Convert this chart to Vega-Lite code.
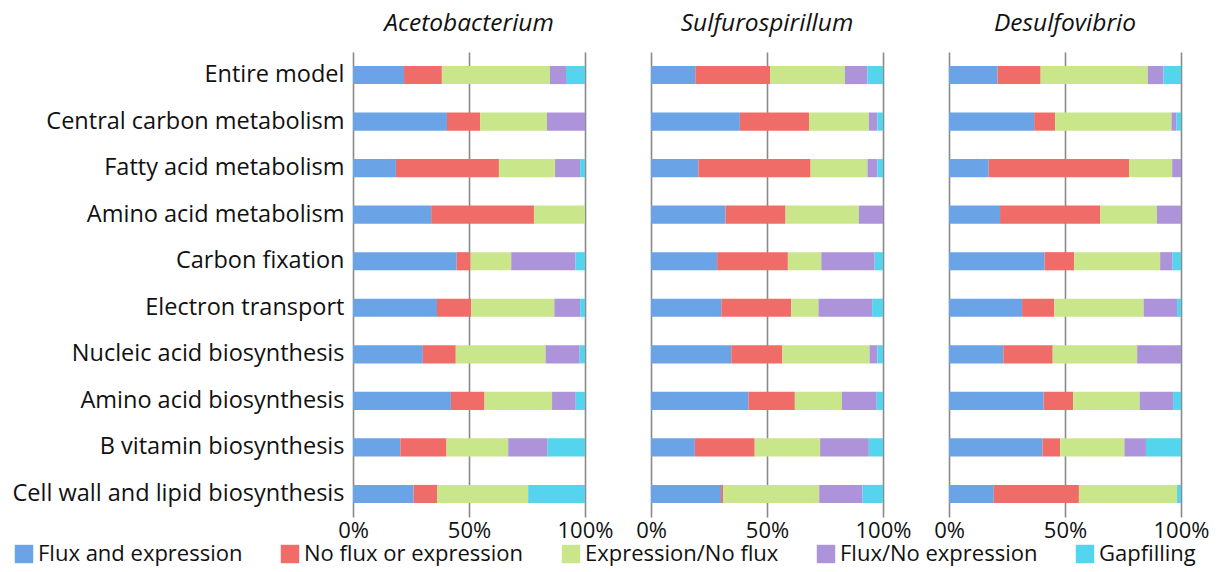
{
  "$schema": "https://vega.github.io/schema/vega-lite/v6.json",
  "padding": {"left": 12, "top": 10, "right": 2, "bottom": 2},
  "background": "white",
  "config": {
    "font": "Open Sans",
    "view": {"stroke": null},
    "header": {"labelFont": "Open Sans", "labelFontSize": 24.5, "labelFontStyle": "italic", "labelColor": "#111", "labelPadding": 16, "title": null}
  },
  "datasets": {
    "ranks": [
      {"status": "Flux and expression", "rank": 1},
      {"status": "No flux or expression", "rank": 2},
      {"status": "Expression/No flux", "rank": 3},
      {"status": "Flux/No expression", "rank": 4},
      {"status": "Gapfilling", "rank": 5}
    ]
  },
  "data": {
    "values": [
      {"organism": "Acetobacterium", "category": "Entire model", "Flux and expression": 22.0, "No flux or expression": 16.3, "Expression/No flux": 46.6, "Flux/No expression": 6.9, "Gapfilling": 8.2},
      {"organism": "Acetobacterium", "category": "Central carbon metabolism", "Flux and expression": 40.5, "No flux or expression": 14.3, "Expression/No flux": 28.8, "Flux/No expression": 16.4, "Gapfilling": 0},
      {"organism": "Acetobacterium", "category": "Fatty acid metabolism", "Flux and expression": 18.5, "No flux or expression": 44.4, "Expression/No flux": 24.2, "Flux/No expression": 10.8, "Gapfilling": 2.1},
      {"organism": "Acetobacterium", "category": "Amino acid metabolism", "Flux and expression": 33.7, "No flux or expression": 44.3, "Expression/No flux": 22.0, "Flux/No expression": 0, "Gapfilling": 0},
      {"organism": "Acetobacterium", "category": "Carbon fixation", "Flux and expression": 44.7, "No flux or expression": 6.0, "Expression/No flux": 17.5, "Flux/No expression": 27.7, "Gapfilling": 4.1},
      {"organism": "Acetobacterium", "category": "Electron transport", "Flux and expression": 36.2, "No flux or expression": 14.8, "Expression/No flux": 35.8, "Flux/No expression": 11.1, "Gapfilling": 2.1},
      {"organism": "Acetobacterium", "category": "Nucleic acid biosynthesis", "Flux and expression": 30.1, "No flux or expression": 14.2, "Expression/No flux": 38.7, "Flux/No expression": 14.7, "Gapfilling": 2.3},
      {"organism": "Acetobacterium", "category": "Amino acid biosynthesis", "Flux and expression": 42.2, "No flux or expression": 14.5, "Expression/No flux": 29.1, "Flux/No expression": 10.2, "Gapfilling": 4.0},
      {"organism": "Acetobacterium", "category": "B vitamin biosynthesis", "Flux and expression": 20.4, "No flux or expression": 19.9, "Expression/No flux": 26.6, "Flux/No expression": 17.0, "Gapfilling": 16.1},
      {"organism": "Acetobacterium", "category": "Cell wall and lipid biosynthesis", "Flux and expression": 26.1, "No flux or expression": 10.1, "Expression/No flux": 39.3, "Flux/No expression": 0, "Gapfilling": 24.5},
      {"organism": "Sulfurospirillum", "category": "Entire model", "Flux and expression": 19.1, "No flux or expression": 32.2, "Expression/No flux": 32.3, "Flux/No expression": 9.7, "Gapfilling": 6.7},
      {"organism": "Sulfurospirillum", "category": "Central carbon metabolism", "Flux and expression": 38.3, "No flux or expression": 29.8, "Expression/No flux": 25.8, "Flux/No expression": 3.7, "Gapfilling": 2.4},
      {"organism": "Sulfurospirillum", "category": "Fatty acid metabolism", "Flux and expression": 20.4, "No flux or expression": 48.4, "Expression/No flux": 24.5, "Flux/No expression": 4.3, "Gapfilling": 2.4},
      {"organism": "Sulfurospirillum", "category": "Amino acid metabolism", "Flux and expression": 32.1, "No flux or expression": 25.9, "Expression/No flux": 31.6, "Flux/No expression": 10.4, "Gapfilling": 0},
      {"organism": "Sulfurospirillum", "category": "Carbon fixation", "Flux and expression": 28.5, "No flux or expression": 30.5, "Expression/No flux": 14.4, "Flux/No expression": 23.0, "Gapfilling": 3.6},
      {"organism": "Sulfurospirillum", "category": "Electron transport", "Flux and expression": 30.3, "No flux or expression": 30.1, "Expression/No flux": 11.8, "Flux/No expression": 23.1, "Gapfilling": 4.7},
      {"organism": "Sulfurospirillum", "category": "Nucleic acid biosynthesis", "Flux and expression": 34.6, "No flux or expression": 22.0, "Expression/No flux": 37.6, "Flux/No expression": 3.4, "Gapfilling": 2.4},
      {"organism": "Sulfurospirillum", "category": "Amino acid biosynthesis", "Flux and expression": 42.0, "No flux or expression": 20.0, "Expression/No flux": 20.3, "Flux/No expression": 15.0, "Gapfilling": 2.7},
      {"organism": "Sulfurospirillum", "category": "B vitamin biosynthesis", "Flux and expression": 18.9, "No flux or expression": 25.8, "Expression/No flux": 28.2, "Flux/No expression": 21.0, "Gapfilling": 6.1},
      {"organism": "Sulfurospirillum", "category": "Cell wall and lipid biosynthesis", "Flux and expression": 30.2, "No flux or expression": 0.9, "Expression/No flux": 41.4, "Flux/No expression": 18.7, "Gapfilling": 8.8},
      {"organism": "Desulfovibrio", "category": "Entire model", "Flux and expression": 20.9, "No flux or expression": 18.6, "Expression/No flux": 46.2, "Flux/No expression": 6.7, "Gapfilling": 7.6},
      {"organism": "Desulfovibrio", "category": "Central carbon metabolism", "Flux and expression": 36.7, "No flux or expression": 9.1, "Expression/No flux": 50.1, "Flux/No expression": 2.1, "Gapfilling": 2.0},
      {"organism": "Desulfovibrio", "category": "Fatty acid metabolism", "Flux and expression": 17.1, "No flux or expression": 60.5, "Expression/No flux": 18.6, "Flux/No expression": 3.8, "Gapfilling": 0},
      {"organism": "Desulfovibrio", "category": "Amino acid metabolism", "Flux and expression": 22.0, "No flux or expression": 43.1, "Expression/No flux": 24.5, "Flux/No expression": 10.4, "Gapfilling": 0},
      {"organism": "Desulfovibrio", "category": "Carbon fixation", "Flux and expression": 41.2, "No flux or expression": 12.7, "Expression/No flux": 37.1, "Flux/No expression": 5.4, "Gapfilling": 3.6},
      {"organism": "Desulfovibrio", "category": "Electron transport", "Flux and expression": 31.5, "No flux or expression": 13.9, "Expression/No flux": 38.5, "Flux/No expression": 14.4, "Gapfilling": 1.7},
      {"organism": "Desulfovibrio", "category": "Nucleic acid biosynthesis", "Flux and expression": 23.4, "No flux or expression": 21.3, "Expression/No flux": 36.4, "Flux/No expression": 18.9, "Gapfilling": 0},
      {"organism": "Desulfovibrio", "category": "Amino acid biosynthesis", "Flux and expression": 40.8, "No flux or expression": 12.7, "Expression/No flux": 28.7, "Flux/No expression": 14.4, "Gapfilling": 3.4},
      {"organism": "Desulfovibrio", "category": "B vitamin biosynthesis", "Flux and expression": 40.3, "No flux or expression": 7.6, "Expression/No flux": 27.7, "Flux/No expression": 9.3, "Gapfilling": 15.1},
      {"organism": "Desulfovibrio", "category": "Cell wall and lipid biosynthesis", "Flux and expression": 19.3, "No flux or expression": 36.7, "Expression/No flux": 42.3, "Flux/No expression": 0, "Gapfilling": 1.7}
    ]
  },
  "transform": [
    {"fold": ["Flux and expression", "No flux or expression", "Expression/No flux", "Flux/No expression", "Gapfilling"], "as": ["status", "pct"]},
    {"lookup": "status", "from": {"data": {"name": "ranks"}, "key": "status", "fields": ["rank"]}}
  ],
  "facet": {
    "column": {"field": "organism", "type": "nominal", "sort": ["Acetobacterium", "Sulfurospirillum", "Desulfovibrio"], "header": {"title": null}}
  },
  "spacing": 66,
  "spec": {
    "width": 232,
    "height": 465,
    "mark": {"type": "bar"},
    "encoding": {
      "y": {
        "field": "category", "type": "nominal", "sort": null,
        "scale": {"paddingInner": 0.61, "paddingOuter": 0.3},
        "axis": {"title": null, "ticks": false, "domain": false, "labelFontSize": 23.5, "labelColor": "#111", "labelPadding": 9, "labelLimit": 500}
      },
      "x": {
        "field": "pct", "type": "quantitative", "stack": "normalize",
        "scale": {"domain": [0, 1]},
        "axis": {"title": null, "values": [0, 0.5, 1], "format": ".0%", "grid": true, "gridColor": "#8a8a8a", "gridWidth": 1.6, "domain": false, "ticks": false, "labelFontSize": 22, "labelColor": "#111", "labelPadding": 3, "labelFlush": false}
      },
      "order": {"field": "rank", "type": "quantitative"},
      "color": {
        "field": "status", "type": "nominal",
        "sort": ["Flux and expression", "No flux or expression", "Expression/No flux", "Flux/No expression", "Gapfilling"],
        "scale": {
          "domain": ["Flux and expression", "No flux or expression", "Expression/No flux", "Flux/No expression", "Gapfilling"],
          "range": ["#6aa3e6", "#f06c68", "#c9e68a", "#ad93d9", "#55d4ee"]
        },
        "legend": {
          "title": null, "orient": "none", "direction": "horizontal", "legendX": -340, "legendY": 491,
          "symbolType": "square", "symbolSize": 340, "symbolStrokeWidth": 0, "symbolOpacity": 1,
          "labelFontSize": 22, "labelColor": "#111", "labelOffset": 3, "columnPadding": 36, "labelLimit": 400
        }
      }
    }
  }
}
